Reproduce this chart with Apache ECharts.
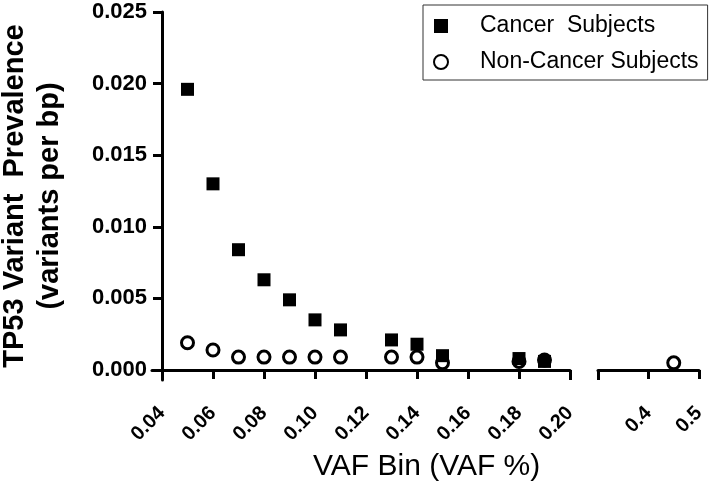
<!DOCTYPE html>
<html>
<head>
<meta charset="utf-8">
<script src="https://cdn.jsdelivr.net/npm/echarts@6/dist/echarts.min.js"></script>
<style>html,body{margin:0;padding:0;background:#fff;}#c{width:709px;height:490px;}</style>
</head>
<body>
<div id="c"></div>
<script>
// Data
const cancerX = [0.05, 0.06, 0.07, 0.08, 0.09, 0.10, 0.11, 0.13, 0.14, 0.15, 0.18, 0.19];
const cancerY = [0.0196, 0.0130, 0.0084, 0.0063, 0.0049, 0.0035, 0.0028, 0.0021, 0.0018, 0.0010, 0.0008, 0.0006];
const nonCancerX = [0.05, 0.06, 0.07, 0.08, 0.09, 0.10, 0.11, 0.13, 0.14, 0.15, 0.18, 0.19];
const nonCancerY = [0.0019, 0.0014, 0.0009, 0.0009, 0.0009, 0.0009, 0.0009, 0.0009, 0.0009, 0.0005, 0.0006, 0.0007];
const nonCancerHighX = [0.45];
const nonCancerHighY = [0.0005];
const seriesNames = ['Cancer  Subjects', 'Non-Cancer Subjects'];
const yTicks = [0, 0.005, 0.010, 0.015, 0.020, 0.025];
const xTicksLow = [0.04, 0.06, 0.08, 0.10, 0.12, 0.14, 0.16, 0.18, 0.20];
const xTicksHigh = [0.3, 0.4, 0.5];
const xLabelsHigh = [0.4, 0.5];
const yTitle = 'TP53 Variant  Prevalence\n(variants per bp)';
const xTitle = 'VAF Bin (VAF %)';

const FONT = '"Liberation Sans", Arial, sans-serif';
const pairs = (xs, ys) => xs.map((x, i) => [x, ys[i]]);

// Layout: plot area from y=12 (0.025) to y=370 (0), x=162 (0.04) to x=570 (0.20).
// Grids are extended 10 px left/below so that outward ticks fall inside the grid area.
const PAD = 10;
const Y_MAX = 0.025, Y_SPAN_PX = 358;
const Y_MIN = -PAD * Y_MAX / Y_SPAN_PX;
const XL_MIN = 0.04, XL_MAX = 0.2, XL_SPAN_PX = 408;
const XL_AXIS_MIN = XL_MIN - PAD * (XL_MAX - XL_MIN) / XL_SPAN_PX;

const chart = echarts.init(document.getElementById('c'), null, {renderer: 'canvas'});
const tickStyle = () => ({color: '#000', width: 3});
const xLabel = (fmt, vals) => ({formatter: fmt, customValues: vals, fontFamily: FONT, fontWeight: 'bold', fontSize: 20, color: '#000', rotate: 45, margin: 30});
const noBounds = {containLabel: false, outerBoundsMode: 'none'};

chart.setOption({
  animation: false,
  backgroundColor: '#fff',
  title: {
    text: xTitle, left: 313, top: 452, padding: 0,
    textStyle: {fontFamily: FONT, fontWeight: 'normal', fontSize: 30, color: '#000'}
  },
  legend: {
    orient: 'vertical', left: 423, top: 5,
    padding: [8, 9, 5, 10],
    borderColor: '#333', borderWidth: 1,
    itemWidth: 14, itemHeight: 14, itemGap: 10,
    textStyle: {fontFamily: FONT, fontSize: 23, color: '#000', padding: [0, 0, 0, 27], lineHeight: 26},
    data: [{name: seriesNames[0], icon: 'rect'}, {name: seriesNames[1], icon: 'circle'}]
  },
  grid: [
    Object.assign({left: 162 - PAD, right: 139, top: 12, bottom: 120 - PAD}, noBounds),
    Object.assign({left: 598, right: 10, top: 12, bottom: 120 - PAD}, noBounds)
  ],
  xAxis: [
    {type: 'value', gridIndex: 0, position: 'bottom', min: XL_AXIS_MIN, max: XL_MAX, splitLine: {show: false},
     axisLine: {show: true, onZero: true, lineStyle: {color: '#000', width: 3}},
     axisTick: {show: true, length: 9, customValues: xTicksLow, lineStyle: tickStyle()},
     axisLabel: xLabel(v => v.toFixed(2), xTicksLow)},
    {type: 'value', gridIndex: 1, position: 'bottom', min: 0.3, max: 0.5, splitLine: {show: false},
     axisLine: {show: true, onZero: true, lineStyle: {color: '#000', width: 3}},
     axisTick: {show: true, length: 9, customValues: xTicksHigh, lineStyle: tickStyle()},
     axisLabel: xLabel(v => v.toFixed(1), xLabelsHigh)},
    {type: 'value', gridIndex: 0, position: 'bottom', min: XL_AXIS_MIN, max: XL_MAX, splitLine: {show: false},
     axisLine: {show: false, onZero: true}, axisLabel: {show: false},
     axisTick: {show: true, inside: true, length: 8, customValues: [xTicksLow[xTicksLow.length - 1]], lineStyle: tickStyle()}},
    {type: 'value', gridIndex: 1, position: 'bottom', min: 0.3, max: 0.5, splitLine: {show: false},
     axisLine: {show: false, onZero: true}, axisLabel: {show: false},
     axisTick: {show: true, inside: true, length: 8, customValues: [xTicksHigh[0]], lineStyle: tickStyle()}}
  ],
  yAxis: [
    {type: 'value', gridIndex: 0, position: 'left', offset: -PAD, min: Y_MIN, max: Y_MAX, splitLine: {show: false},
     axisLine: {show: true, onZero: false, lineStyle: {color: '#000', width: 3}},
     axisTick: {show: true, length: 9, customValues: yTicks, lineStyle: tickStyle()},
     axisLabel: {formatter: v => v.toFixed(3), customValues: yTicks, fontFamily: FONT, fontWeight: 'bold', fontSize: 22, color: '#000', margin: 15},
     name: yTitle, nameLocation: 'middle', nameGap: 95,
     nameTextStyle: {fontFamily: FONT, fontWeight: 'bold', fontSize: 29, color: '#000', lineHeight: 35}},
    {type: 'value', gridIndex: 1, min: Y_MIN, max: Y_MAX, show: false}
  ],
  series: [
    {name: seriesNames[1], type: 'scatter', xAxisIndex: 0, yAxisIndex: 0,
     symbol: 'circle', symbolSize: 12,
     itemStyle: {color: '#fff', borderColor: '#000', borderWidth: 3, opacity: 1},
     data: pairs(nonCancerX, nonCancerY)},
    {name: seriesNames[1], type: 'scatter', xAxisIndex: 1, yAxisIndex: 1,
     symbol: 'circle', symbolSize: 12,
     itemStyle: {color: '#fff', borderColor: '#000', borderWidth: 3, opacity: 1},
     data: pairs(nonCancerHighX, nonCancerHighY)},
    {name: seriesNames[0], type: 'scatter', xAxisIndex: 0, yAxisIndex: 0,
     symbol: 'rect', symbolSize: 13,
     itemStyle: {color: '#000', opacity: 1},
     data: pairs(cancerX, cancerY)}
  ]
});
</script>
</body>
</html>
